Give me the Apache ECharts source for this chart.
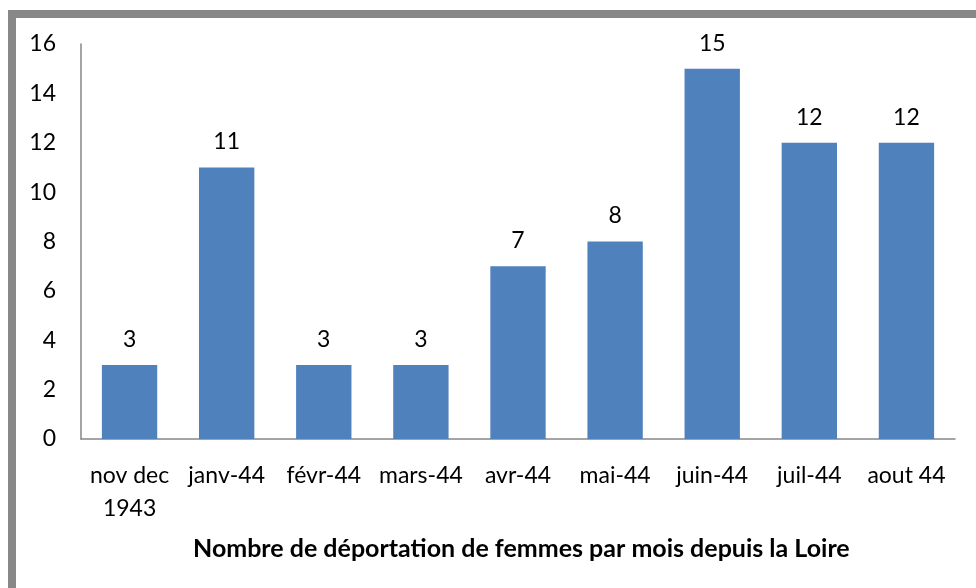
<!DOCTYPE html>
<html><head><meta charset="utf-8">
<script src="https://cdn.jsdelivr.net/npm/echarts@6/dist/echarts.min.js"></script>
<style>html,body{margin:0;padding:0;background:#fff;}#c{width:976px;height:588px;}</style>
</head><body><div id="c"></div>
<script>
const categories = ["nov dec\n1943", "janv-44", "févr-44", "mars-44", "avr-44", "mai-44", "juin-44", "juil-44", "aout 44"];
const values = [3, 11, 3, 3, 7, 8, 15, 12, 12];
const yMin = 0, yMax = 16, yStep = 2;
const title = "Nombre de déportation de femmes par mois depuis la Loire";

const chart = echarts.init(document.getElementById('c'));
const font = "Lato, 'Open Sans', sans-serif";
chart.setOption({
  animation: false,
  backgroundColor: '#fff',
  graphic: [{
    type: 'rect', shape: {x: 12, y: 14, width: 1100, height: 800},
    style: {fill: 'none', stroke: '#888888', lineWidth: 8}, silent: true
  }],
  title: {
    text: title, left: 188, top: 531,
    textStyle: {fontFamily: font, fontSize: 25, fontWeight: 'bold', color: '#000'}
  },
  grid: {left: 81, top: 44, right: 21, bottom: 149},
  xAxis: {
    type: 'category', data: categories,
    axisLine: {lineStyle: {color: '#868686', width: 1.5}},
    axisTick: {show: false},
    axisLabel: {fontFamily: font, fontSize: 23, color: '#000', margin: 20, lineHeight: 33, interval: 0}
  },
  yAxis: {
    type: 'value', min: yMin, max: yMax, interval: yStep,
    splitLine: {show: false},
    axisLine: {show: true, lineStyle: {color: '#868686', width: 1.5}},
    axisTick: {show: false},
    axisLabel: {fontFamily: font, fontSize: 23, color: '#000', margin: 25}
  },
  series: [{
    type: 'bar', data: values, barCategoryGap: '43%',
    itemStyle: {color: '#4F81BD'},
    label: {show: true, position: 'top', distance: 14, fontFamily: font, fontSize: 23, color: '#000'}
  }]
});
</script></body></html>
